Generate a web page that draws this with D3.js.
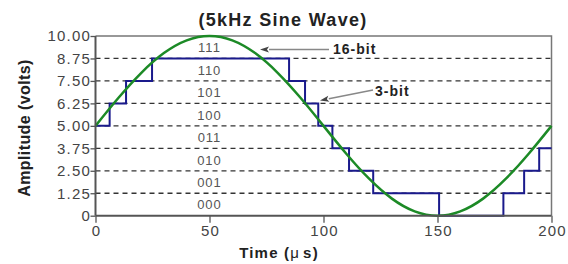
<!DOCTYPE html>
<html>
<head>
<meta charset="utf-8">
<script src="https://cdn.jsdelivr.net/npm/d3@7"></script>
<style>
  body { margin: 0; background: #fff; }
  text { font-family: "Liberation Sans", Arial, sans-serif; }
</style>
</head>
<body>
<svg width="568" height="264"></svg>
<script>
"use strict";
// 16-bit sine wave, read every 10 us
let sineTimes = [0, 10, 20, 30, 40, 50, 60, 70, 80, 90, 100, 110, 120, 130, 140, 150, 160, 170, 180, 190, 200];
let sineValues = [5.00, 6.55, 7.94, 9.05, 9.76, 10.00, 9.76, 9.05, 7.94, 6.55, 5.00, 3.45, 2.06, 0.95, 0.24, 0.00, 0.24, 0.95, 2.06, 3.45, 5.00];
// 3-bit staircase: level holds from stepTimes[i] to stepTimes[i+1]
let stepTimes = [0, 6.2, 13.4, 24.8, 84.9, 91.9, 97.7, 103.9, 111.2, 121.8, 150.7, 178.9, 188, 194.6, 200];
let stepLevels = [5.00, 6.25, 7.50, 8.75, 7.50, 6.25, 5.00, 3.75, 2.50, 1.25, 0, 1.25, 2.50, 3.75, 3.75];
let yTicks = [0, 1.25, 2.50, 3.75, 5.00, 6.25, 7.50, 8.75, 10.00];
let xTicks = [0, 50, 100, 150, 200];
let codes = ["000", "001", "010", "011", "100", "101", "110", "111"];

let svg = d3.select("svg");
let x = d3.scaleLinear().domain([0, 200]).range([95.5, 551.5]);
let y = d3.scaleLinear().domain([0, 10]).range([215.7, 36]);

// title
svg.append("text").attr("x", 283).attr("y", 25.5).attr("text-anchor", "middle")
    .style("font-size", "18px").style("font-weight", "bold").style("letter-spacing", "1.3px")
    .attr("fill", "#222").text("(5kHz Sine Wave)");

// dashed grid
svg.append("g").selectAll("line")
    .data(yTicks.filter(d => d > 0 && d < 10))
    .enter().append("line")
    .attr("x1", x(0)).attr("x2", x(200))
    .attr("y1", d => y(d)).attr("y2", d => y(d))
    .attr("stroke", "#333").attr("stroke-width", 1.3)
    .attr("stroke-dasharray", "5,4");

// frame top/right
svg.append("path")
    .attr("d", `M${x(0)},${y(10)}H${x(200)}V${y(0)}`)
    .attr("fill", "none").attr("stroke", "#777").attr("stroke-width", 1.5);

// code labels
svg.append("g").selectAll("text")
    .data(codes)
    .enter().append("text")
    .attr("x", x(50))
    .attr("y", (d, i) => y(i * 1.25 + 0.625) + 5)
    .attr("text-anchor", "middle")
    .style("font-size", "13px").style("letter-spacing", "1px").attr("fill", "#555")
    .text(d => d);

// staircase
let step = d3.line().x(d => x(d[0])).y(d => y(d[1])).curve(d3.curveStepAfter);
svg.append("path")
    .datum(stepTimes.map((t, i) => [t, stepLevels[i]]))
    .attr("d", step)
    .attr("fill", "none").attr("stroke", "#1a1a8c").attr("stroke-width", 2);

// sine
let smooth = d3.line().x(d => x(d[0])).y(d => y(d[1])).curve(d3.curveNatural);
svg.append("path")
    .datum(sineTimes.map((t, i) => [t, sineValues[i]]))
    .attr("d", smooth)
    .attr("fill", "none").attr("stroke", "#1c8a26").attr("stroke-width", 2.5);

// axes
let yAxis = d3.axisLeft(y).tickValues(yTicks).tickSize(5).tickPadding(-0.5)
    .tickFormat(d => d === 0 ? "0" : d3.format(".2f")(d));
let gy = svg.append("g").attr("transform", `translate(${x(0)},0)`).call(yAxis);
let xAxis = d3.axisBottom(x).tickValues(xTicks).tickSize(7).tickPadding(3);
let gx = svg.append("g").attr("transform", `translate(0,${y(0)})`).call(xAxis);
[gy, gx].forEach(g => {
    g.select(".domain").attr("stroke", "#555").attr("stroke-width", 2);
    g.selectAll(".tick line").attr("stroke", "#555").attr("stroke-width", 1.3);
    g.selectAll(".tick text").style("font-size", "15px").style("letter-spacing", "1.2px").attr("fill", "#444")
        .style("font-family", "'Liberation Sans', Arial, sans-serif");
});
gx.selectAll(".tick text").attr("dx", "0.6px");
gy.select(".domain").attr("d", `M0,${y(10)}V${y(0)}`);
gx.select(".domain").attr("d", `M${x(0)},0H${x(200)}`);

// axis titles
svg.append("text").attr("transform", "translate(30,128) rotate(-90)")
    .attr("text-anchor", "middle").style("font-size", "16px").style("font-weight", "bold")
    .style("letter-spacing", "0.4px").attr("fill", "#222").text("Amplitude (volts)");
let xl = svg.append("text").attr("x", 279).attr("y", 258).attr("text-anchor", "middle")
    .style("font-size", "15px").style("font-weight", "bold").style("letter-spacing", "1.2px")
    .attr("fill", "#222");
xl.append("tspan").text("Time (");
xl.append("tspan").style("font-weight", "normal").text("μ");
xl.append("tspan").attr("dx", 3).text("s)");

// annotations: leader lines with small filled arrowheads
function arrow(x1, y1, x2, y2) {
    let a = Math.atan2(y2 - y1, x2 - x1), len = 9, w = 3;
    let bx = x2 - len * Math.cos(a), by = y2 - len * Math.sin(a);
    let nx = -Math.sin(a) * w, ny = Math.cos(a) * w;
    svg.append("line").attr("x1", x1).attr("y1", y1).attr("x2", bx).attr("y2", by)
        .attr("stroke", "#888").attr("stroke-width", 1.4);
    svg.append("path")
        .attr("d", `M${x2},${y2}L${bx + nx},${by + ny}L${bx + 2 * Math.cos(a)},${by + 2 * Math.sin(a)}L${bx - nx},${by - ny}Z`)
        .attr("fill", "#444");
}
arrow(329, 49.5, 260, 49.5);
svg.append("text").attr("x", 333).attr("y", 53.5).style("font-size", "14px").style("font-weight", "bold")
    .style("letter-spacing", "1px").attr("fill", "#222").text("16-bit");
arrow(373, 90, 320, 100.5);
svg.append("text").attr("x", 375).attr("y", 96).style("font-size", "14px").style("font-weight", "bold")
    .style("letter-spacing", "1px").attr("fill", "#222").text("3-bit");
</script>
</body>
</html>
